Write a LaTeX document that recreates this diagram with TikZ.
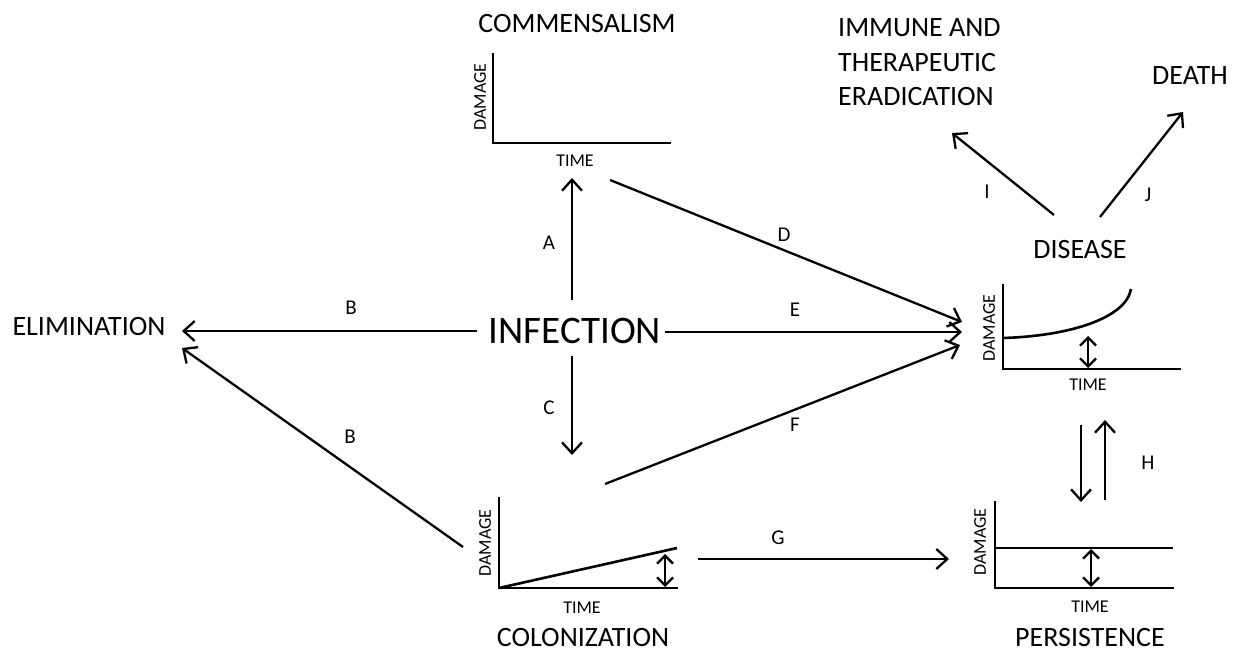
\documentclass[tikz,border=0pt]{standalone}
\usepackage{fontspec}
\setmainfont{Carlito}
\usetikzlibrary{arrows.meta}
\tikzset{
  fs/.style={font=\fontsize{#1}{#1}\selectfont, inner sep=0pt, anchor=center},
  title/.style={fs=28},
  big/.style={fs=39},
  axl/.style={fs=18},
  lab/.style={fs=21},
  conn/.style={line width=2.3pt, -{Straight Barb[length=11pt,width=20pt,line width=2.3pt]}},
  axis/.style={line width=2.8pt, line cap=rect},
  curve/.style={line width=2.6pt},
  dbl/.style={line width=2.3pt, {Straight Barb[length=8pt,width=16pt,line width=2.3pt]}-{Straight Barb[length=8pt,width=16pt,line width=2.3pt]}},
}
\begin{document}
\begin{tikzpicture}[x=1pt,y=-1pt]
\useasboundingbox (0,0) rectangle (1243,653);
\fill[white] (0,0) rectangle (1243,653);

% ---- text nodes
\node[title] (comm) at (577,24) {COMMENSALISM};
\node[big] (inf) at (575,331) {INFECTION};
\node[title] (elim) at (89,327) {ELIMINATION};
\node[title] (col) at (583,638) {COLONIZATION};
\node[title] (pers) at (1090,638) {PERSISTENCE};
\node[title] (dis) at (1080,250) {DISEASE};
\node[title] (death) at (1190,76) {DEATH};
\node[title, anchor=west] (imm1) at (838,28) {IMMUNE AND};
\node[title, anchor=west] (imm2) at (838,63) {THERAPEUTIC};
\node[title, anchor=west] (imm3) at (838,97) {ERADICATION};

% ---- commensalism plot
\draw[axis] (493,54) -- (493,143) -- (670,143);
\node[axl, rotate=90] (cdam) at (480,97) {DAMAGE};
\node[axl] (ctime) at (575,161) {TIME};

% ---- colonization plot
\draw[axis] (499,498) -- (499,588) -- (677,588);
\draw[curve] (499,588) -- (677,548);
\coordinate (cd1) at (665,554); \coordinate (cd2) at (665,587);
\draw[dbl] (cd1) -- (cd2);
\node[axl, rotate=90] (coldam) at (485,543) {DAMAGE};
\node[axl] (coltime) at (582,608) {TIME};

% ---- persistence plot
\draw[axis] (995,502) -- (995,588) -- (1173,588);
\draw[curve] (995,548) -- (1173,548);
\coordinate (pd1) at (1091,549); \coordinate (pd2) at (1091,587);
\draw[dbl] (pd1) -- (pd2);
\node[axl, rotate=90] (pdam) at (980,542) {DAMAGE};
\node[axl] (ptime) at (1090,607) {TIME};

% ---- disease plot
\draw[axis] (1003,285) -- (1003,369) -- (1180,369);
\draw[curve] (1003,338) .. controls (1070,336) and (1126,318) .. (1131,289);
\coordinate (dd1) at (1088,336); \coordinate (dd2) at (1088,368);
\draw[dbl] (dd1) -- (dd2);
\node[axl, rotate=90] (ddam) at (989,328) {DAMAGE};
\node[axl] (dtime) at (1088,385) {TIME};

% ---- connector end points
\coordinate (a0) at (572,300); \coordinate (a1) at (572,178);
\coordinate (b0) at (477,331); \coordinate (b1) at (182,331);
\coordinate (bb0) at (463,547); \coordinate (bb1) at (182,348);
\coordinate (c0) at (572,356); \coordinate (c1) at (572,455);
\coordinate (d0) at (610,180); \coordinate (d1) at (962,322);
\coordinate (e0) at (665,332); \coordinate (e1) at (962,332);
\coordinate (f0) at (605,484); \coordinate (f1) at (960,345);
\coordinate (g0) at (698,559); \coordinate (g1) at (949,559);
\coordinate (h0) at (1081,425); \coordinate (h1) at (1081,502);
\coordinate (hh0) at (1105,500); \coordinate (hh1) at (1105,420);
\coordinate (i0) at (1054,215); \coordinate (i1) at (952,133);
\coordinate (j0) at (1100,217); \coordinate (j1) at (1183,112);

\draw[conn] (a0) -- (a1);
\draw[conn] (b0) -- (b1);
\draw[conn] (bb0) -- (bb1);
\draw[conn] (c0) -- (c1);
\draw[conn] (d0) -- (d1);
\draw[conn] (e0) -- (e1);
\draw[conn] (f0) -- (f1);
\draw[conn] (g0) -- (g1);
\draw[conn] (h0) -- (h1);
\draw[conn] (hh0) -- (hh1);
\draw[conn] (i0) -- (i1);
\draw[conn] (j0) -- (j1);

% ---- connector labels
\node[lab] (la) at (549,243) {A};
\node[lab] (lb) at (351,308) {B};
\node[lab] (lbb) at (350,437) {B};
\node[lab] (lc) at (549,408) {C};
\node[lab] (ld) at (784,235) {D};
\node[lab] (le) at (795,310) {E};
\node[lab] (lf) at (795,425) {F};
\node[lab] (lg) at (778,538) {G};
\node[lab] (lh) at (1148,463) {H};
\node[lab] (li) at (987,192) {I};
\node[lab] (lj) at (1148,195) {J};
\end{tikzpicture}
\end{document}
